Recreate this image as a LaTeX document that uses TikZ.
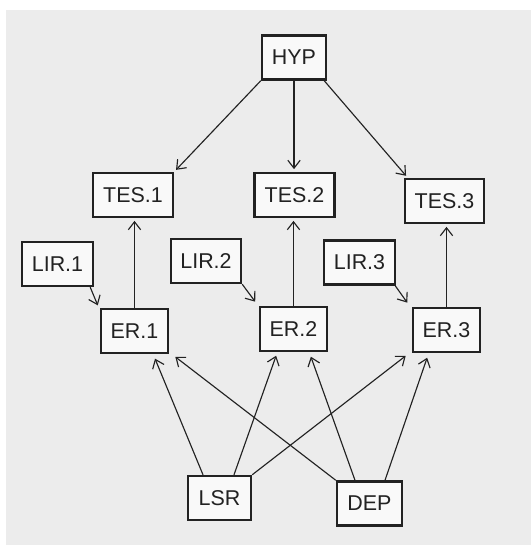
\documentclass[tikz,border=0pt]{standalone}
\usepackage{fontspec}
\setmainfont{Liberation Sans}
\usetikzlibrary{arrows.meta,calc}
\definecolor{bggrey}{HTML}{ECECEC}
\definecolor{boxfill}{HTML}{F9F9F9}
\definecolor{ink}{HTML}{222222}
\begin{document}
\begin{tikzpicture}[x=0.02cm,y=-0.02cm,
  vbox/.style={draw=ink,line width=1.4pt,fill=boxfill,inner sep=0pt,minimum height=0.88cm,
    font=\fontsize{12.2}{14}\selectfont,text=ink},
  arr/.style={draw=ink,line width=0.65pt,-{Straight Barb[length=4.5pt,width=7pt,line width=0.65pt]},shorten >=1.5pt}]
\useasboundingbox (0,0) rectangle (531,545);
\fill[white] (0,0) rectangle (531,545);
\fill[bggrey] (6,10) rectangle (531,545);
% nodes
\node[vbox,minimum width=1.28cm] (HYP) at (294,57.5) {HYP};
\node[vbox,minimum width=1.6cm] (TES1) at (133,195) {TES.1};
\node[vbox,minimum width=1.6cm] (TES2) at (294.5,195) {TES.2};
\node[vbox,minimum width=1.58cm] (TES3) at (444.5,201) {TES.3};
\node[vbox,minimum width=1.42cm] (LIR1) at (57.5,264) {LIR.1};
\node[vbox,minimum width=1.4cm] (LIR2) at (206,261) {LIR.2};
\node[vbox,minimum width=1.42cm] (LIR3) at (359.5,262.5) {LIR.3};
\node[vbox,minimum width=1.34cm] (ER1) at (134.5,331) {ER.1};
\node[vbox,minimum width=1.34cm] (ER2) at (293.5,329) {ER.2};
\node[vbox,minimum width=1.34cm] (ER3) at (446.5,330) {ER.3};
\node[vbox,minimum width=1.26cm] (LSR) at (219.5,498) {LSR};
\node[vbox,minimum width=1.3cm] (DEP) at (369.5,503.5) {DEP};
% HYP to TES
\draw[arr] (HYP.south west) -- (TES1.north east);
\draw[arr] (HYP.south) -- (HYP.south |- TES2.north);
\draw[arr] ($(HYP.south east)+(-3,0)$) -- ($(TES3.north west)+(4,0)$);
% ER to TES
\draw[arr] (ER1.north) -- (ER1.north |- TES1.south);
\draw[arr] (ER2.north) -- (ER2.north |- TES2.south);
\draw[arr] (ER3.north) -- (ER3.north |- TES3.south);
% LIR to ER
\draw[arr] ($(LIR1.south east)+(-4,0)$) -- ($(ER1.north west)+(-1,0)$);
\draw[arr] ($(LIR2.south east)+(0,0)$) -- ($(ER2.north west)+(-2,-2)$);
\draw[arr] ($(LIR3.south east)+(-1,0)$) -- ($(ER3.north west)+(-3,-2)$);
% LSR to ER
\draw[arr] ($(LSR.north)+(-16.5,0)$) -- ($(ER1.south)+(19.5,2)$);
\draw[arr] ($(LSR.north)+(14.5,0)$) -- ($(ER2.south)+(-16.5,1)$);
\draw[arr] (LSR.north east) -- ($(ER3.south west)+(-4,1)$);
% DEP to ER
\draw[arr] (DEP.north west) -- ($(ER1.south east)+(4,1)$);
\draw[arr] ($(DEP.north)+(-14.5,0)$) -- ($(ER2.south)+(16.5,2)$);
\draw[arr] ($(DEP.north)+(15.5,0)$) -- ($(ER3.south)+(-18.5,2)$);
\end{tikzpicture}
\end{document}
